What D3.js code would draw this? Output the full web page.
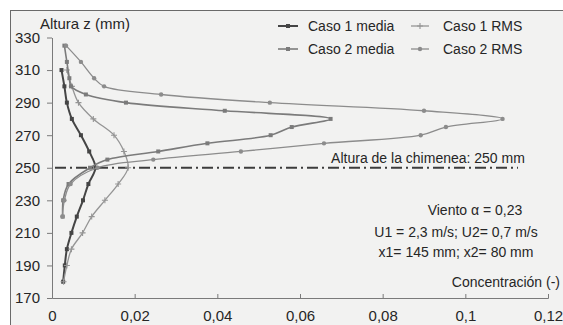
<!DOCTYPE html>
<html lang="es">
<head>
<meta charset="utf-8">
<script src="https://d3js.org/d3.v7.min.js"></script>
<style>
  body { margin: 0; background: #fff; }
  svg text { font-family: "Liberation Sans", Arial, sans-serif; fill: #262626; }
</style>
</head>
<body>
<div class="display1"></div>
<script>
// alturas (mm) y concentraciones
var zCaso1 = [180,190,200,210,220,230,240,250,260,270,280,290,300,310];
var caso1Media = [0.0027,0.0031,0.0036,0.0047,0.0060,0.0075,0.0088,0.0105,0.0090,0.0070,0.0048,0.0036,0.0030,0.0023];
var caso1RMS   = [0.0028,0.0036,0.0047,0.0074,0.0096,0.0128,0.0160,0.0184,0.0174,0.0150,0.0100,0.0064,0.0048,0.0036];

var zCaso2 = [220,230,240,250,255,260,265,270,275,280,285,290,295,300,305,315,325];
var caso2Media = [0.0026,0.0027,0.0040,0.0092,0.0134,0.0257,0.0376,0.0529,0.0580,0.0674,0.0418,0.0179,0.0082,0.0046,0.0042,0.0036,0.0030];
var caso2RMS   = [0.0025,0.0030,0.0045,0.0110,0.0245,0.0457,0.0658,0.0892,0.0953,0.1090,0.0900,0.0527,0.0264,0.0126,0.0102,0.0070,0.0034];

var xTicks = [0,0.02,0.04,0.06,0.08,0.1,0.12];
var xTickLabels = ["0","0,02","0,04","0,06","0,08","0,1","0,12"];
var yTicks = [170,190,210,230,250,270,290,310,330];
var alturaChimenea = 250;

var width = 563, height = 325;
var svg = d3.select('.display1').append('svg').attr('width', width).attr('height', height);

// fondo escaneado con marco
svg.append('rect').attr('x', 10.5).attr('y', 10.5).attr('width', 570).attr('height', 330)
  .attr('fill', '#f2f2f1').attr('stroke', '#6a6a6a').attr('stroke-width', 1);

var x = d3.scaleLinear().domain([0, 0.12]).range([52, 548]);
var y = d3.scaleLinear().domain([170, 330]).range([298, 37.5]);

// eje x
var xAxis = svg.append('g').attr('transform', 'translate(0,298)')
  .call(d3.axisBottom(x).tickValues(xTicks).tickSize(-4).tickPadding(9)
        .tickFormat(function(d, i) { return xTickLabels[i]; }));
xAxis.select('.domain').attr('stroke', '#7a7a7a');
xAxis.selectAll('line').attr('stroke', '#7a7a7a');
xAxis.selectAll('text').attr('font-size', 15).attr('dy', '0.95em');

// eje y
var yAxis = svg.append('g').attr('transform', 'translate(52,0)')
  .call(d3.axisLeft(y).tickValues(yTicks).tickSize(5).tickSizeOuter(0).tickPadding(7));
yAxis.select('.domain').attr('stroke', '#7a7a7a');
yAxis.selectAll('line').attr('stroke', '#7a7a7a');
yAxis.selectAll('text').attr('font-size', 15);

svg.append('text').attr('x', 40).attr('y', 29).attr('font-size', 15).text('Altura z (mm)');

// linea de la chimenea
svg.append('line').attr('x1', 55).attr('x2', 518)
  .attr('y1', y(alturaChimenea)).attr('y2', y(alturaChimenea))
  .attr('stroke', '#3c3c3c').attr('stroke-width', 2).attr('stroke-dasharray', '11,4,2,4');

var series = [
  {name: 'Caso 1 media', z: zCaso1, c: caso1Media, color: '#454545', w: 2,   mark: 'square'},
  {name: 'Caso 1 RMS',   z: zCaso1, c: caso1RMS,   color: '#959595', w: 1.3, mark: 'plus'},
  {name: 'Caso 2 media', z: zCaso2, c: caso2Media, color: '#7b7b7b', w: 1.6, mark: 'square'},
  {name: 'Caso 2 RMS',   z: zCaso2, c: caso2RMS,   color: '#8c8c8c', w: 1.3, mark: 'circle'}
];

var line = d3.line()
  .x(function(d) { return x(d[1]); })
  .y(function(d) { return y(d[0]); })
  .curve(d3.curveCatmullRom.alpha(0.5));

function drawMark(g, mark, color, px, py) {
  if (mark == 'square') {
    g.append('rect').attr('x', px - 2).attr('y', py - 2).attr('width', 4).attr('height', 4).attr('fill', color);
  } else if (mark == 'circle') {
    g.append('circle').attr('cx', px).attr('cy', py).attr('r', 2.2).attr('fill', color);
  } else {
    g.append('path').attr('d', 'M' + (px - 3) + ',' + py + 'h6M' + px + ',' + (py - 3) + 'v6')
      .attr('stroke', color).attr('stroke-width', 1.1);
  }
}

series.forEach(function(s) {
  var pts = s.z.map(function(z, i) { return [z, s.c[i]]; });
  svg.append('path').datum(pts).attr('d', line)
    .attr('fill', 'none').attr('stroke', s.color).attr('stroke-width', s.w);
  var g = svg.append('g');
  pts.forEach(function(p) { drawMark(g, s.mark, s.color, x(p[1]), y(p[0])); });
});

// leyenda
var legendPos = [
  {i: 0, lx: 278, ly: 26},
  {i: 2, lx: 278, ly: 49},
  {i: 1, lx: 411, ly: 26},
  {i: 3, lx: 411, ly: 49}
];
legendPos.forEach(function(p) {
  var s = series[p.i];
  var len = p.lx > 400 ? 18 : 20;
  svg.append('line').attr('x1', p.lx).attr('x2', p.lx + len).attr('y1', p.ly).attr('y2', p.ly)
    .attr('stroke', s.color).attr('stroke-width', s.w);
  drawMark(svg, s.mark, s.color, p.lx + len / 2, p.ly);
  svg.append('text').attr('x', p.lx > 400 ? 443 : 308).attr('y', p.ly + 5)
    .attr('font-size', 14).text(s.name);
});

// anotaciones
svg.append('text').attr('x', 428).attr('y', 163).attr('text-anchor', 'middle')
  .attr('font-size', 14).text('Altura de la chimenea: 250 mm');
svg.append('text').attr('x', 475).attr('y', 215).attr('text-anchor', 'middle')
  .attr('font-size', 14).text('Viento \u03b1 = 0,23');
svg.append('text').attr('x', 456).attr('y', 237).attr('text-anchor', 'middle')
  .attr('font-size', 14).text('U1 = 2,3 m/s; U2= 0,7 m/s');
svg.append('text').attr('x', 456).attr('y', 257).attr('text-anchor', 'middle')
  .attr('font-size', 14).text('x1= 145 mm; x2= 80 mm');
svg.append('text').attr('x', 560).attr('y', 287).attr('text-anchor', 'end')
  .attr('font-size', 14).text('Concentraci\u00f3n (-)');
</script>
</body>
</html>
